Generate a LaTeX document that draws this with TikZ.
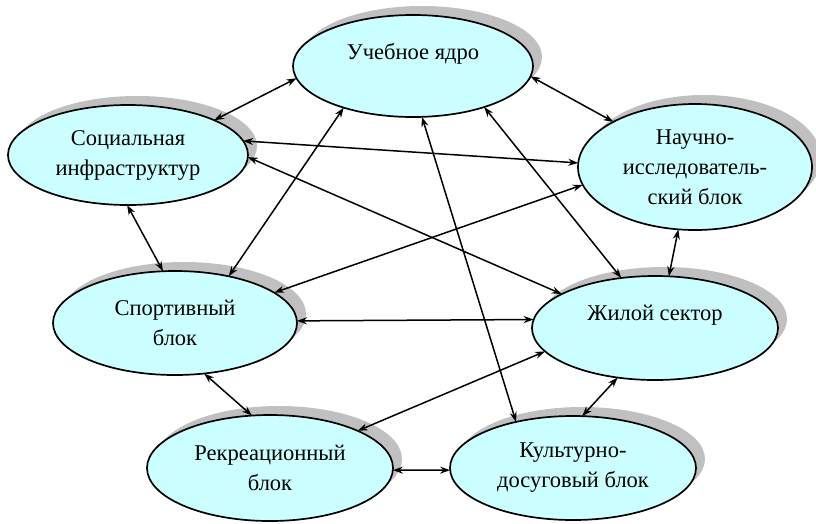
\documentclass[tikz,border=0pt]{standalone}
\usepackage{fontspec}
\setmainfont{Liberation Serif}
\usetikzlibrary{shapes.geometric,shadows,arrows.meta}
\definecolor{ellfill}{HTML}{CCFFFF}
\definecolor{shadowgray}{HTML}{C0C0C0}
\begin{document}
\begin{tikzpicture}[x=1pt,y=-1pt,
  blk/.style={ellipse, draw=black, line width=1.7pt, fill=ellfill, inner sep=0pt, outer sep=0pt,
    align=center, font=\fontsize{22.5}{30}\selectfont,
    drop shadow={shadow xshift=9pt,shadow yshift=9pt,opacity=1,fill=shadowgray}},
  link/.style={{Stealth[length=10pt,width=7pt]}-{Stealth[length=10pt,width=7pt]}, line width=1.5pt}
]
\useasboundingbox (0,0) rectangle (816,523);
\node[blk, minimum width=240pt, minimum height=102pt] (U) at (413,66) {Учебное ядро\\\mbox{}};
\node[blk, minimum width=240pt, minimum height=100pt] (S) at (128,155) {Социальная\\инфраструктур};
\node[blk, minimum width=234pt, minimum height=126pt] (N) at (695,167) {Научно-\\исследователь-\\ский блок};
\node[blk, minimum width=244pt, minimum height=104pt] (Sp) at (175,323) {Спортивный\\блок};
\node[blk, minimum width=246pt, minimum height=104pt] (Zh) at (655,328) {Жилой сектор\\\mbox{}};
\node[blk, minimum width=246pt, minimum height=106pt] (R) at (270,468) {Рекреационный\\блок};
\node[blk, minimum width=246pt, minimum height=104pt] (K) at (573,468) {Культурно-\\досуговый блок};

\draw[link] (U.186) -- (S.22);
\draw[link] (U.-5) -- (N.151);
\draw[link] (U.211) -- (Sp.41);
\draw[link] (U.-30) -- (Zh.124);
\draw[link] (U.-80) -- (K.141);
\draw[link] (S.7) -- (N.178);
\draw[link] (S.-1) -- (Zh.160);
\draw[link] (S.-91) -- (Sp.103);
\draw[link] (N.189) -- (Sp.17);
\draw[link] (N.255) -- (Zh.75);
\draw[link] (Sp.1) -- (Zh.176);
\draw[link] (Sp.-60) -- (R.109);
\draw[link] (Zh.192) -- (R.23);
\draw[link] (Zh.233) -- (K.80);
\draw[link] (R.-1) -- (K.181);
\end{tikzpicture}
\end{document}
